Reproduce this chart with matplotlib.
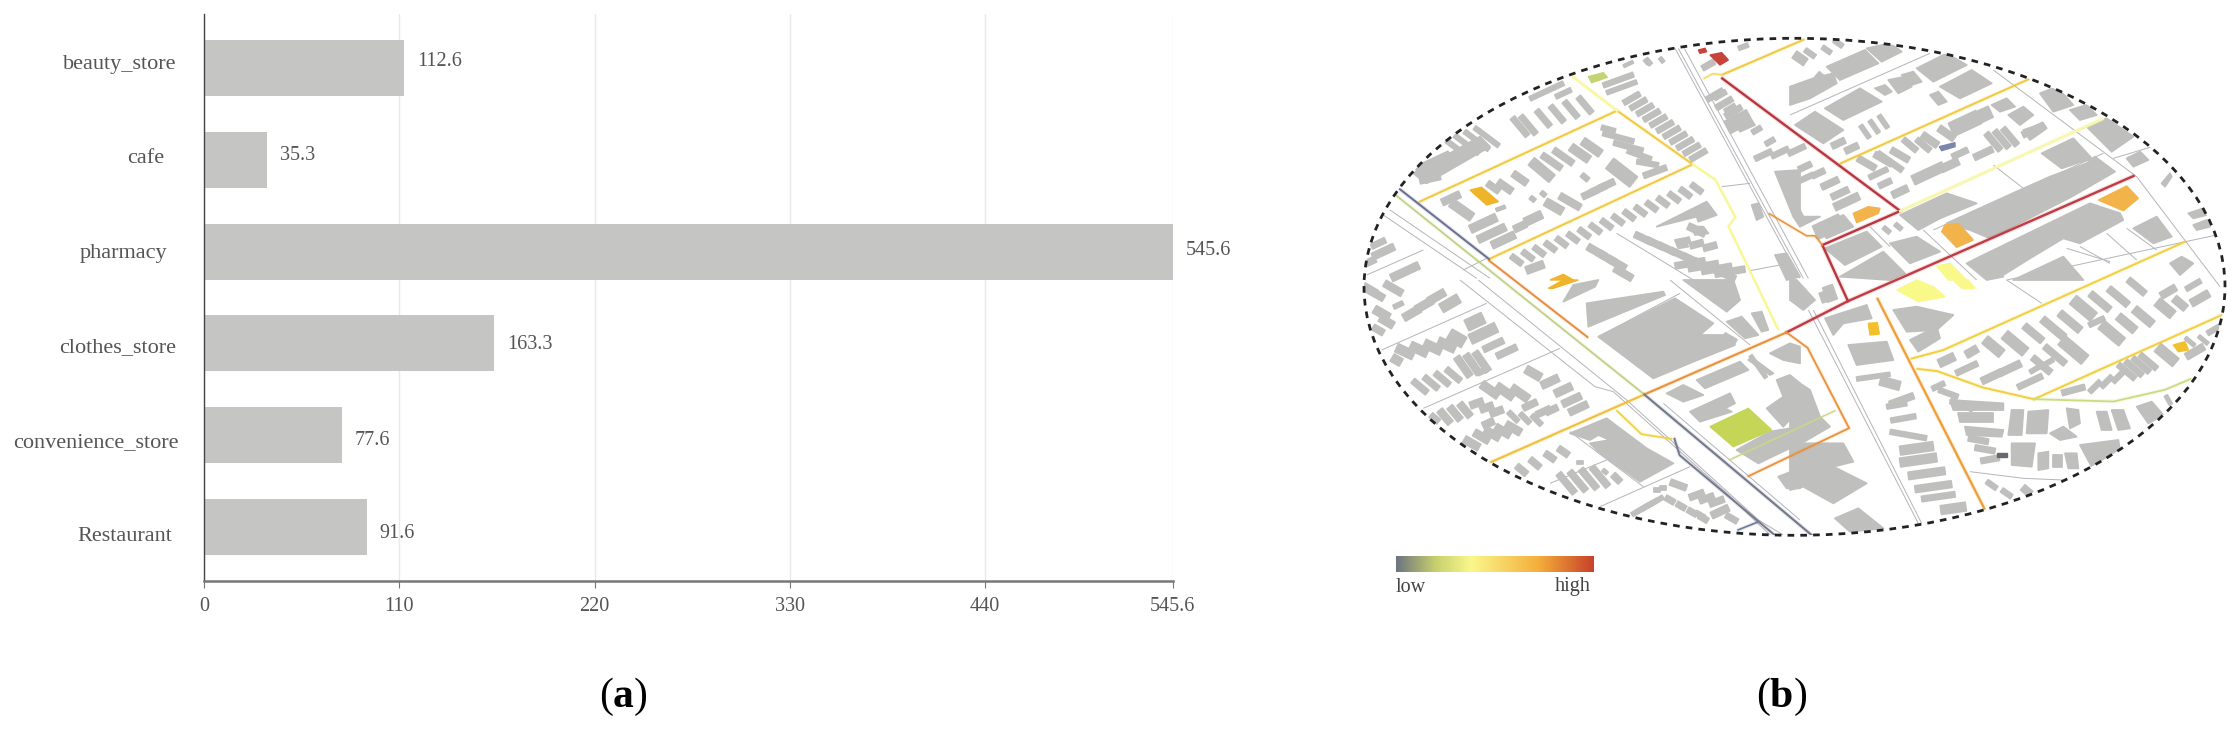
import numpy as np
import matplotlib
matplotlib.use("Agg")
import matplotlib.pyplot as plt
from matplotlib.collections import PolyCollection, LineCollection
from matplotlib.colors import LinearSegmentedColormap
from matplotlib.patches import Ellipse
from matplotlib.transforms import ScaledTranslation

plt.rcParams['font.family'] = ['Liberation Serif', 'DejaVu Serif']
plt.rcParams['mathtext.fontset'] = 'custom'
plt.rcParams['mathtext.rm'] = 'Liberation Serif'
plt.rcParams['mathtext.bf'] = 'Liberation Serif:bold'

# ---------- bar chart data ----------
categories = ["beauty_store", "cafe", "pharmacy", "clothes_store", "convenience_store", "Restaurant"]
values = [112.6, 35.3, 545.6, 163.3, 77.6, 91.6]
x_ticks = [0, 110, 220, 330, 440, 545.6]
x_tick_labels = ["0", "110", "220", "330", "440", "545.6"]
label_shift_px = [-2, -14, -11, -2, 0, -6]
label_drop_px = [-6, -4, -1, 1.5, 5, 6.6]

# ---------- map data (crop-space coordinates) ----------
ORIGINS = {"A": (1350, 30), "B": (1790, 30), "C": (1350, 280), "D": (1790, 280)}

# rows: x0, y0, x1, y1, count, length, width, angle
rows_A = [
    (240,445,240,445,1,62,20,-12), (250,400,250,400,1,110,28,-25),
    (320,355,410,320,4,90,13,37), (510,290,535,285,2,70,16,50),
    (580,265,705,225,4,62,16,50), (590,183,590,183,1,110,13,-25),
    (640,190,640,190,1,50,13,-25), (835,102,835,102,1,30,8,-25),
    (895,95,895,95,1,22,12,50), (805,150,805,150,1,95,14,-20),
    (815,172,815,172,1,95,12,-20), (845,205,1045,375,11,55,15,-30),
    (303,505,303,505,1,58,20,-25), (335,540,335,540,1,75,26,35),
    (400,580,400,580,1,85,24,-25), (425,610,425,610,1,90,22,-25),
    (460,630,460,630,1,75,22,-25), (430,472,430,472,1,42,18,35),
    (465,470,510,445,2,50,20,35), (575,420,575,420,1,80,28,40),
    (605,395,640,380,2,70,18,35), (690,370,725,352,2,65,24,35),
    (775,298,775,298,1,42,14,15), (805,322,805,322,1,95,14,15),
    (835,350,835,350,1,90,14,15), (868,375,868,375,1,75,14,20),
    (893,400,893,400,1,65,14,10), (915,425,915,425,1,72,16,-20),
    (815,428,815,428,1,90,38,38), (705,442,705,442,1,24,14,40),
    (510,590,510,590,1,38,20,-25), (550,565,550,565,1,55,24,-25),
    (612,530,612,530,1,58,24,30), (660,515,660,515,1,70,20,30),
    (720,490,770,465,3,50,18,-25), (548,507,580,492,2,16,12,40),
    (452,535,452,535,1,28,9,-20),
    (500,690,1040,475,17,40,16,37), (555,712,555,712,1,55,22,-20),
    (740,665,800,700,3,60,20,30), (820,730,820,730,1,60,20,30),
    (880,625,1130,735,8,55,18,25), (1040,600,1040,600,1,55,20,25),
    (1000,635,1080,650,3,40,18,-15), (1020,700,1140,725,4,90,18,-10),
    (1095,195,1150,245,3,55,16,-30), (1165,275,1165,275,1,75,40,-28),
    (1220,300,1260,335,2,30,14,-30), (1240,375,1340,360,3,55,15,-25),
    (1140,235,1140,235,1,35,12,-30),
    (1075,105,1075,105,1,40,16,-30), (1110,195,1110,195,1,40,14,-30),
    (100,665,100,665,1,70,20,-25), (165,725,165,725,1,90,22,-25),
    (85,640,85,640,1,45,16,-25), (60,695,60,695,1,35,18,-25),
    (1180,50,1180,50,1,30,12,-20), (890,95,935,90,2,16,10,50),
]
polys_A = [
    [(190,430),(390,320),(420,350),(230,460)],
    [(1275,425),(1350,420),(1350,590),(1330,560)],
    [(920,590),(1070,515),(1100,555),(1045,575),(1040,560)],
    [(1025,590),(1060,590),(1075,610),(1035,615)],
    [(1145,260),(1185,245),(1215,285),(1170,305)],
    [(975,630),(1000,625),(1015,650),(985,655)],
    [(1275,675),(1310,670),(1350,740),(1310,750)],
    [(1205,525),(1225,520),(1240,560),(1220,570)],
]
rows_B = [
    (60,70,60,70,1,35,14,35), (30,85,30,85,1,40,24,35), (110,60,145,40,2,30,13,35),
    (100,150,100,150,1,50,22,40), (90,170,90,170,1,40,22,-25),
    (145,340,185,355,2,42,18,-25), (225,305,280,275,3,45,12,55),
    (230,400,330,375,3,60,18,30), (300,395,300,395,1,90,16,35),
    (265,430,265,430,1,60,14,-25), (285,460,285,460,1,40,16,-25),
    (330,485,330,485,1,50,20,-25), (360,345,400,345,2,52,16,40),
    (420,330,470,310,2,55,20,35), (525,280,525,280,1,90,42,-25),
    (570,260,570,260,1,70,36,-25), (610,335,660,320,3,65,17,50),
    (510,370,510,370,1,50,16,-25), (480,405,480,405,1,55,22,-25),
    (415,430,415,430,1,100,28,-25), (580,370,580,370,1,60,18,-25),
    (730,300,730,300,1,70,18,-25),
    (45,410,85,430,2,40,16,-25), (120,460,150,490,2,55,18,-25),
    (170,515,210,515,1,80,22,-25), (115,590,115,590,1,85,42,-25),
    (45,445,45,445,1,55,14,-25), (290,600,325,590,2,24,12,40),
]
polys_B = [
    [(110,110),(225,60),(265,100),(150,150)], [(230,55),(300,40),(335,65),(275,95)],
    [(380,115),(470,70),(530,105),(430,155)], [(450,170),(545,120),(605,160),(510,205)],
    [(105,235),(210,175),(275,215),(160,270)], [(15,285),(75,245),(160,300),(100,340)],
    [(295,150),(345,140),(365,170),(325,190)], [(335,135),(370,125),(395,155),(365,165)],
    [(255,175),(285,165),(305,185),(285,195)], [(420,195),(445,185),(470,215),(445,225)],
    [(0,170),(70,145),(130,130),(140,160),(60,205),(0,225)],
    [(605,225),(650,205),(675,230),(630,245)], [(655,255),(700,230),(730,255),(690,285)],
    [(700,300),(760,280),(770,295),(720,330)], [(750,190),(800,170),(850,225),(790,245)],
    [(840,240),(890,225),(920,255),(870,270)], [(890,290),(950,265),(1030,320),(965,365)],
    [(1010,385),(1050,365),(1075,390),(1030,410)], [(1115,460),(1140,430),(1145,440),(1125,470)],
    [(1195,550),(1240,535),(1250,555),(1210,565)], [(1210,585),(1250,570),(1260,590),(1220,600)],
    [(755,370),(850,325),(905,385),(815,415)],
    [(470,580),(690,480),(780,440),(890,400),(915,380),(975,425),(845,500),(600,625),(540,600)],
    [(330,555),(470,490),(560,520),(450,565),(385,600)],
    [(570,680),(900,520),(930,530),(990,550),(1000,570),(870,640),(820,625),(720,685),(640,735)],
    [(105,655),(230,605),(275,650),(165,705)], [(150,740),(280,665),(345,730),(300,750)],
    [(300,640),(380,620),(450,665),(360,700)], [(1030,595),(1100,560),(1145,620),(1090,640)],
    [(670,750),(820,680),(880,750)], [(530,700),(570,680),(640,740),(590,750)],
    [(0,480),(40,560),(90,560),(30,590)], [(80,590),(160,555),(190,590),(110,625)],
    [(1140,700),(1175,680),(1210,700),(1170,735)],
]
rows_C = [
    (75,40,130,25,2,60,20,30), (95,100,100,100,1,50,24,30), (145,75,145,75,1,30,12,-25),
    (185,100,260,50,3,55,22,-30), (300,70,300,70,1,60,28,-30),
    (60,30,60,30,1,45,22,30), (110,125,110,125,1,45,22,30), (85,150,85,150,1,35,18,30),
    (375,125,375,125,1,55,34,-25), (400,160,400,160,1,85,30,-25),
    (430,195,470,215,2,65,18,-25), (140,240,140,240,1,30,24,30),
    (165,215,290,195,4,55,26,25), (320,175,320,175,1,50,34,30),
    (210,320,310,285,4,55,17,40), (340,260,395,245,3,70,20,55),
    (395,275,395,275,1,26,14,-25), (550,280,550,280,1,50,24,30),
    (600,305,640,330,2,55,22,-25), (665,360,685,385,2,60,20,-25),
    (420,330,510,340,3,60,24,35), (380,370,440,395,3,40,20,-20),
    (285,410,345,390,3,50,20,50), (540,375,580,395,2,45,18,-25),
    (605,390,605,390,1,38,18,-25), (415,430,415,430,1,35,20,-25),
    (490,410,560,420,3,40,14,45), (395,470,490,445,4,50,22,30),
    (365,490,385,500,1,50,22,30), (515,570,555,550,2,38,18,40),
    (600,530,640,515,2,36,18,35), (690,548,690,548,1,16,10,0),
    (650,610,750,590,4,75,18,50), (800,595,800,595,1,30,18,45),
    (765,575,765,575,1,16,10,40), (920,630,940,625,2,18,12,0),
    (985,615,985,615,1,50,18,20), (1040,645,1100,665,3,45,18,-20),
    (1110,695,1110,695,1,55,20,-25), (870,690,915,665,4,55,12,-30),
    (960,660,1060,715,4,30,16,30), (1145,715,1145,715,1,38,16,30),
    (1225,260,1225,260,1,80,10,55), (1140,175,1140,175,1,40,14,30),
    (250,420,250,420,1,30,30,40), (1050,705,1050,705,1,30,14,30),
]
polys_C = [
    [(745,170),(975,55),(1090,130),(1050,165),(1130,165),(1155,195),(1030,245),(910,295)],
    [(1000,0),(1150,0),(1170,60),(1130,95)], [(1130,125),(1175,110),(1225,165),(1185,175)],
    [(1205,100),(1235,95),(1255,150),(1235,155)], [(1040,300),(1170,245),(1195,270),(1065,325)],
    [(950,340),(1000,315),(1060,345),(1000,365)],
    [(1020,395),(1140,340),(1155,370),(1125,385),(1145,395),(1050,425)],
    [(1260,220),(1320,190),(1350,200),(1350,250),(1300,240)],
    [(1280,300),(1320,285),(1350,310),(1350,385),(1300,440),(1250,385),(1300,350)],
    [(1160,510),(1260,455),(1350,440),(1350,490),(1225,550)],
    [(1285,590),(1350,565),(1350,625),(1310,625)],
    [(660,460),(770,415),(890,505),(970,550),(870,605),(750,520),(720,490),(780,480),(745,465),(720,480)],
    [(670,15),(745,0),(735,20),(640,65)], [(710,70),(940,35),(945,45),(715,140)],
    [(1195,240),(1205,232),(1270,280),(1260,285)],
]
rows_D = [
    (105,50,125,40,1,30,26,70), (470,240,470,240,1,50,24,-25), (545,215,545,215,1,38,22,-30),
    (530,265,530,265,1,70,16,-25), (610,200,610,200,1,65,28,40), (675,190,675,190,1,80,30,40),
    (605,290,605,290,1,65,20,-25), (660,265,660,265,1,70,20,-25), (730,160,730,160,1,70,20,40),
    (790,145,790,145,1,85,22,40), (850,210,850,210,1,90,34,40), (795,225,795,225,1,80,18,40),
    (755,255,755,255,1,70,18,40), (720,305,720,305,1,80,16,-25), (840,125,840,125,1,80,22,40),
    (880,85,880,85,1,80,32,40), (920,125,920,125,1,50,14,-25), (965,160,965,160,1,80,30,40),
    (1010,130,1010,130,1,65,24,40), (1060,110,1060,110,1,70,24,40), (930,65,985,50,2,75,20,40),
    (1040,20,1040,20,1,65,18,40), (1125,85,1125,85,1,60,28,40), (1170,70,1170,70,1,45,22,40),
    (1230,55,1230,55,1,60,22,-30), (1135,35,1135,35,1,50,20,-30), (1210,15,1210,15,1,50,14,-30),
    (850,330,850,330,1,70,16,-15), (915,320,985,290,3,45,14,-45), (1010,275,1075,245,4,65,16,40),
    (1130,225,1130,225,1,70,30,40), (1215,215,1215,215,1,60,20,-30), (1270,150,1270,150,1,40,14,-30),
    (1200,185,1240,180,2,35,10,40),
    (445,318,445,318,1,40,14,-25), (475,340,475,340,1,60,14,20), (515,375,515,375,1,70,16,20),
    (565,480,565,480,1,60,16,10), (585,508,585,508,1,60,16,10), (600,538,600,538,1,55,16,-10),
    (335,360,335,360,1,75,18,-20), (340,415,340,415,1,75,14,-10), (355,465,355,465,1,110,14,10),
    (380,505,380,505,1,100,26,-8), (385,540,385,540,1,110,26,-8), (410,580,410,580,1,110,22,-8),
    (430,620,430,620,1,110,20,-8), (445,650,445,650,1,100,16,-8), (490,685,490,685,1,75,26,-8),
    (250,290,250,290,1,100,12,-8), (300,310,300,310,1,60,26,15), (320,375,320,375,1,60,14,-10),
    (605,615,650,640,2,35,14,35), (710,632,710,632,1,30,20,40), (120,40,120,40,1,45,30,70),
    (1135,360,1135,360,1,30,10,60), (740,265,770,250,2,45,12,-30),
]
polys_D = [
    [(0,490),(160,490),(190,545),(130,560),(230,610),(130,670),(40,620),(0,630)],
    [(0,290),(60,330),(90,410),(120,440),(0,510)], [(135,715),(205,685),(280,745),(180,755)],
    [(105,115),(230,75),(245,115),(160,130),(130,165)], [(175,195),(290,185),(310,240),(200,255)],
    [(665,390),(700,390),(695,465),(655,465)], [(715,395),(775,390),(770,460),(710,460)],
    [(830,385),(865,390),(870,430),(840,445)], [(920,395),(950,395),(965,450),(935,450)],
    [(965,390),(1000,390),(1020,445),(985,450)], [(1040,380),(1085,365),(1120,405),(1075,430)],
    [(870,495),(985,480),(990,510),(905,560)], [(665,490),(735,490),(725,560),(665,555)],
    [(745,520),(775,515),(775,565),(745,570)], [(790,525),(815,525),(815,560),(790,560)],
    [(825,520),(860,520),(865,565),(835,565)], [(525,440),(640,450),(635,470),(530,465)],
    [(505,400),(610,400),(610,425),(510,425)], [(480,360),(640,370),(640,390),(490,390)],
    [(360,180),(440,140),(450,175),(385,215)], [(310,90),(380,80),(490,105),(440,150),(350,155)],
    [(780,460),(820,440),(860,470),(810,480)], [(0,0),(20,0),(75,60),(40,90),(0,60)],
]

# coloured footprints: crop, colour, outline
coloured_buildings = [
    ("A", "#c3d474", [(715,140),(760,128),(772,142),(725,158)]),
    ("A", "#efb42a", [(360,480),(395,472),(445,515),(410,525)]),
    ("A", "#efb42a", [(600,750),(640,733),(670,750)]),
    ("C", "#efb42a", [(595,25),(640,0),(685,0),(610,25)]),
    ("A", "#c8423a", [(1080,75),(1115,68),(1135,90),(1110,105)]),
    ("A", "#c8423a", [(1045,60),(1065,55),(1070,65),(1050,70)]),
    ("B", "#f2b34a", [(190,550),(235,530),(270,535),(265,550),(200,578)]),
    ("B", "#f2b34a", [(455,605),(465,585),(505,580),(550,630),(500,652)]),
    ("B", "#f2b34a", [(925,510),(1010,468),(1045,505),(1000,542),(960,525)]),
    ("D", "#f9f98a", [(320,30),(380,0),(430,20),(465,50),(385,65)]),
    ("B", "#f9f98a", [(440,708),(480,700),(530,750),(475,750)]),
    ("D", "#f9f98a", [(490,0),(535,0),(555,25),(515,25)]),
    ("D", "#f2c02a", [(235,130),(262,128),(268,162),(240,165)]),
    ("D", "#f2c02a", [(1150,195),(1185,185),(1195,210),(1165,215)]),
    ("C", "#c5d558", [(1080,440),(1195,385),(1265,450),(1150,500)]),
    ("B", "#7a86ad", [(448,350),(495,338),(495,350),(455,362)]),
    ("D", "#666a70", [(622,518),(650,518),(650,530),(622,530)]),
]

# thin street lines: crop, points
thin_lines = [
    ("A", [(975,55),(1350,745)]), ("A", [(985,55),(1360,745)]), ("A", [(1003,55),(1375,745)]),
    ("D", [(55,90),(385,730)]), ("D", [(70,90),(395,730)]),
    ("A", [(100,555),(380,745)]), ("A", [(120,540),(420,745)]),
    ("C", [(330,0),(735,320),(790,335),(1130,640),(1260,765)]),
    ("C", [(385,0),(830,360),(1225,720),(1300,765)]),
    ("C", [(95,210),(410,70)]), ("C", [(220,385),(630,205)]),
    ("C", [(600,610),(770,540)]), ("C", [(750,680),(1020,560)]),
    ("C", [(660,455),(880,620)]), ("C", [(990,40),(745,170)]), ("C", [(960,0),(1200,195)]),
    ("C", [(940,370),(1350,720)]),
    ("A", [(50,735),(220,660)]), ("A", [(340,720),(410,685)]),
    ("A", [(800,610),(1030,750)]), ("A", [(1115,470),(1200,460)]), ("A", [(1200,722),(1290,705)]),
    ("B", [(0,255),(420,70)]), ("B", [(610,405),(700,475)]), ("B", [(430,600),(940,370)]),
    ("B", [(610,120),(1040,440),(1290,770)]), ("B", [(970,385),(1120,340)]),
    ("B", [(650,750),(1280,615)]), ("B", [(830,655),(960,695)]), ("B", [(870,650),(960,700)]),
    ("B", [(950,610),(1040,690)]), ("B", [(1010,595),(1100,660)]), ("B", [(240,590),(300,650)]),
    ("B", [(400,600),(560,750)]),
    ("D", [(540,575),(700,595),(820,600)]), ("D", [(650,0),(755,70)]),
]

# coloured streets in overview coordinates: colour, line width, points
roads = [
    ("#b8363d", 1.7, [(672,168),(985,452),(848,525),(893,645)]),
    ("#c23a42", 1.7, [(1395,377),(893,645),(785,712)]),
    ("#e8923a", 1.5, [(785,712),(535,845)]),
    ("#f2bf3b", 1.5, [(535,845),(265,990)]),
    ("#e8923a", 1.3, [(785,712),(822,745),(895,917),(718,1020)]),
    ("#ef9d36", 1.6, [(945,640),(1133,1090)]),
    ("#e8923a", 1.1, [(755,458),(820,505),(835,505),(848,525)]),
    ("#e58a3a", 1.3, [(262,558),(435,722)]),
    ("#f2c93d", 1.4, [(140,432),(487,237),(620,352),(262,555)]),
    ("#f2c93d", 1.4, [(672,160),(815,85)]),
    ("#f4d86a", 1.1, [(640,168),(655,158),(672,160)]),
    ("#f2c93d", 1.4, [(880,350),(1210,170)]),
    ("#f2cf3d", 1.4, [(1005,768),(1060,750),(1485,518)]),
    ("#f2cf3d", 1.4, [(1015,790),(1050,795),(1130,830),(1220,855)]),
    ("#f2cf3d", 1.4, [(1220,855),(1555,672)]),
    ("#c9dc82", 1.3, [(1220,855),(1360,860),(1450,835),(1495,812)]),
    ("#f2cf3d", 1.2, [(487,880),(530,930),(582,940)]),
    ("#f8f8a4", 1.9, [(410,165),(487,237)]),
    ("#f8f68c", 1.4, [(620,352),(660,385),(695,465),(683,485),(770,705)]),
    ("#f7f7b0", 2.0, [(985,452),(1340,255)]),
    ("#bfd083", 1.2, [(95,415),(535,845)]),
    ("#69708f", 1.4, [(105,405),(262,555)]),
    ("#737a8c", 1.5, [(535,845),(830,1147)]),
    ("#737a8c", 1.4, [(588,940),(597,975),(765,1147)]),
    ("#6f7a9a", 1.2, [(700,1135),(735,1118)]),
    ("#ccd68a", 1.0, [(685,985),(870,880)]),
]

legend_colors = ["#6d7480", "#c7d06e", "#fbf78c", "#f4ae3a", "#c8412b"]
legend_stops = [0.0, 0.2, 0.38, 0.72, 1.0]

# ---------- figure ----------
W, H = 2232, 732
fig = plt.figure(figsize=(W / 100, H / 100), dpi=100, facecolor="white")

# (a) bar chart
ax = fig.add_axes([204 / W, 1 - 581 / H, (1172.5 - 204) / W, (581 - 14) / H])
pos = np.arange(len(categories))
ax.barh(pos, values, height=56 / 91.8, color="#c5c5c3", zorder=2)
ax.set_xlim(0, 545.6)
ax.set_ylim(5 + 54 / 91.8, -54 / 91.8)
ax.set_xticks(x_ticks)
ax.set_xticklabels(x_tick_labels, fontsize=14.5, color="#555555")
ax.set_yticks(pos)
ax.set_yticklabels(categories, fontsize=16, color="#555555")
ax.tick_params(axis="y", length=0, pad=18.5)
ax.tick_params(axis="x", length=5, width=0.8, color="#777777", pad=6.5)
for lab, s, d in zip(ax.get_yticklabels(), label_shift_px, label_drop_px):
    lab.set_transform(lab.get_transform() + ScaledTranslation(s / 100, -d / 100, fig.dpi_scale_trans))
ax.grid(axis="x", color="#e9e9e9", lw=1.0, zorder=0)
for sp in ("top", "right"):
    ax.spines[sp].set_visible(False)
ax.spines["left"].set_color("#444444")
ax.spines["left"].set_linewidth(1.0)
ax.spines["bottom"].set_color("#777777")
ax.spines["bottom"].set_linewidth(1.8)
for p, v, d in zip(pos, values, label_drop_px):
    ax.annotate(f"{v}", (v, p), xytext=(9.5, -d * 0.72), textcoords="offset points",
                va="center", ha="left", fontsize=14.5, color="#555555", annotation_clip=False)

# (b) map on a pixel-space axes
mp = fig.add_axes([0, 0, 1, 1], facecolor="none")
mp.set_xlim(0, W)
mp.set_ylim(H, 0)
mp.axis("off")
ell = Ellipse((1794.5, 286.8), 861, 497, transform=mp.transData, fc="none", ec="none")
mp.add_patch(ell)


def crop_pt(c, p):
    ox, oy = ORIGINS[c]
    return (ox + p[0] / 3, oy + p[1] / 3)


def over_pt(p):
    return (1340 + p[0] / 1.758, p[1] / 2.142)


def row_polys(c, rows):
    out = []
    for x0, y0, x1, y1, n, L, Wd, a in rows:
        xs = np.linspace(x0, x1, n)
        ys = np.linspace(y0, y1, n)
        t = np.radians(a)
        ux, uy = np.cos(t), np.sin(t)
        vx, vy = -uy, ux
        for x, y in zip(xs, ys):
            pts = [(x + sa * ux * L / 2 + sb * vx * Wd / 2, y + sa * uy * L / 2 + sb * vy * Wd / 2)
                   for sa, sb in ((-1, -1), (1, -1), (1, 1), (-1, 1))]
            out.append([crop_pt(c, q) for q in pts])
    return out


lines = [[crop_pt(c, p) for p in pts] for c, pts in thin_lines]
lc = LineCollection(lines, colors="#b4b4ba", linewidths=0.7, zorder=1)
mp.add_collection(lc)
lc.set_clip_path(ell)

polys = []
for c, rows, extra in (("A", rows_A, polys_A), ("B", rows_B, polys_B),
                       ("C", rows_C, polys_C), ("D", rows_D, polys_D)):
    polys += row_polys(c, rows)
    polys += [[crop_pt(c, p) for p in poly] for poly in extra]
pc = PolyCollection(polys, facecolors="#bfbfbd", edgecolors="#bfbfbd", linewidths=1.3,
                    joinstyle="round", zorder=2)
mp.add_collection(pc)
pc.set_clip_path(ell)

for c, col, poly in coloured_buildings:
    pg = plt.Polygon([crop_pt(c, p) for p in poly], fc=col, ec=col, lw=1.0, zorder=3)
    mp.add_patch(pg)
    pg.set_clip_path(ell)

for col, lw, pts in roads:
    xy = np.array([over_pt(p) for p in pts])
    halo, = mp.plot(xy[:, 0], xy[:, 1], color=col, lw=lw + 1.6, alpha=0.16, zorder=4,
                    solid_capstyle="round")
    ln, = mp.plot(xy[:, 0], xy[:, 1], color=col, lw=lw, zorder=5, solid_joinstyle="miter")
    halo.set_clip_path(ell)
    ln.set_clip_path(ell)

mp.add_patch(Ellipse((1794.5, 286.8), 861, 497, fc="none", ec="#222222", lw=2.0,
                     linestyle=(0, (2.4, 2.2)), zorder=6))

# legend gradient
cmap = LinearSegmentedColormap.from_list("lh", list(zip(legend_stops, legend_colors)))
mp.imshow(np.linspace(0, 1, 256)[None, :], cmap=cmap, extent=(1396, 1594, 572, 556.5),
          aspect="auto", zorder=3)
mp.set_xlim(0, W)
mp.set_ylim(H, 0)
mp.text(1396, 587, "low", fontsize=14.5, color="#444444", ha="left", va="center")
mp.text(1591, 587, "high", fontsize=14.5, color="#444444", ha="right", va="center")

# captions
mp.text(623, 697, r"($\mathbf{a}$)", fontsize=30, color="black", ha="center", va="center")
mp.text(1782, 697, r"($\mathbf{b}$)", fontsize=30, color="black", ha="center", va="center")

fig.savefig("out.png", dpi=100, facecolor="white")
